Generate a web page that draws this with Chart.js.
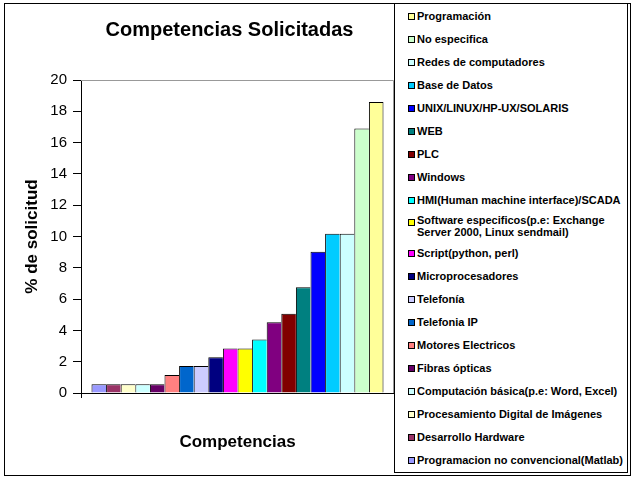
<!DOCTYPE html>
<html>
<head>
<meta charset="utf-8">
<script src="https://cdn.jsdelivr.net/npm/chart.js@4.4.1/dist/chart.umd.min.js"></script>
<style>
  html, body { margin: 0; padding: 0; background: #fff; }
  #wrap { position: relative; width: 633px; height: 478px; overflow: hidden; }
  #chart { position: absolute; left: 0; top: 0; }
  #frame {
    position: absolute; left: 4px; top: 3px; width: 627px; height: 473px;
    border: 1px solid #000; box-sizing: border-box; pointer-events: none;
  }
  #legend {
    position: absolute; left: 394px; top: 3px; width: 234px; height: 470px;
    border: 1px solid #000; box-sizing: border-box; background: #fff;
    padding-top: 1px;
    font-family: "Liberation Sans", Arial, sans-serif; font-size: 11px; font-weight: bold; color: #000;
  }
  .item { display: flex; align-items: center; height: 23px; padding-left: 13px; }
  .item.multi { height: 30px; align-items: flex-start; }
  .item.multi .mark { margin-top: 7px; }
  .item.multi .txt { margin-top: 3px; }
  .mark { width: 7px; height: 7px; border: 1px solid #000; box-sizing: border-box; margin-right: 2px; flex: none; }
  .txt { white-space: pre-line; line-height: 11.5px; }
</style>
</head>
<body>
<div id="wrap">
  <canvas id="chart" width="633" height="478"></canvas>
  <div id="frame"></div>
  <div id="legend"></div>
</div>
<script>
// Competencias solicitadas: one series per skill, sorted from smallest to largest
const skills = [
  'Programacion no convencional(Matlab)',
  'Desarrollo Hardware',
  'Procesamiento Digital de Imágenes',
  'Computación básica(p.e: Word, Excel)',
  'Fibras ópticas',
  'Motores Electricos',
  'Telefonia IP',
  'Telefonía',
  'Microprocesadores',
  'Script(python, perl)',
  'Software especificos(p.e: Exchange\nServer 2000, Linux sendmail)',
  'HMI(Human machine interface)/SCADA',
  'Windows',
  'PLC',
  'WEB',
  'UNIX/LINUX/HP-UX/SOLARIS',
  'Base de Datos',
  'Redes de computadores',
  'No especifica',
  'Programación'
];
const shares = [
  0.56, 0.56, 0.56, 0.56, 0.56, 1.15, 1.72, 1.72, 2.28, 2.85,
  2.85, 3.42, 4.52, 5.06, 6.75, 9.03, 10.17, 10.17, 16.9, 18.6
];
const barColors = [
  '#9999FF', '#993366', '#FFFFCC', '#CCFFFF', '#660066', '#FF8080', '#0066CC', '#CCCCFF', '#000080', '#FF00FF',
  '#FFFF00', '#00FFFF', '#800080', '#800000', '#008080', '#0000FF', '#00CCFF', '#CCFFFF', '#CCFFCC', '#FFFF99'
];
const categories = [''];
const yTickValues = [0, 2, 4, 6, 8, 10, 12, 14, 16, 18, 20];

Chart.defaults.font.family = '"Liberation Sans", Arial, sans-serif';
Chart.defaults.color = '#000';

// gray frame on top and right of the plot area (Excel style)
const plotFrame = {
  id: 'plotFrame',
  afterLayout(chart) {
    // the original title sits a little left of the plot centre
    if (chart.titleBlock) chart.titleBlock.left -= 16;
  },
  beforeDatasetsDraw(chart) {
    const { ctx, chartArea: a } = chart;
    ctx.save();
    ctx.strokeStyle = '#999';
    ctx.lineWidth = 1;
    ctx.beginPath();
    ctx.moveTo(a.left, a.top + 0.5);
    ctx.lineTo(a.right - 0.5, a.top + 0.5);
    ctx.lineTo(a.right - 0.5, a.bottom);
    ctx.stroke();
    ctx.restore();
  }
};

const last = skills.length - 1;
const datasets = skills.map((label, i) => ({
  label,
  data: [shares[i]],
  backgroundColor: barColors[i],
  borderColor: '#000',
  borderWidth: { top: 1, left: 1, right: i === last ? 1 : 0, bottom: 0 },
  borderSkipped: 'bottom',
  categoryPercentage: 0.933,
  barPercentage: 1
}));

new Chart(document.getElementById('chart').getContext('2d'), {
  type: 'bar',
  data: { labels: categories, datasets },
  options: {
    responsive: false,
    animation: false,
    layout: { padding: { left: 0, top: 0, right: 239, bottom: 0 } },
    scales: {
      x: {
        afterFit: s => { s.height = 85; },
        grid: { drawOnChartArea: false, tickLength: 5, color: '#000', offset: true },
        border: { color: '#000', width: 1 },
        ticks: { display: false },
        title: {
          display: true,
          text: 'Competencias',
          font: { size: 17, weight: 'bold' },
          padding: { top: 0, bottom: 25 }
        }
      },
      y: {
        min: 0,
        max: 20,
        afterBuildTicks: s => { s.ticks = yTickValues.map(v => ({ value: v })); },
        afterFit: s => { s.width = 81; },
        grid: { drawOnChartArea: false, tickLength: 8, color: '#000' },
        border: { color: '#000', width: 1 },
        ticks: { font: { size: 15 }, padding: 6 },
        title: {
          display: true,
          text: '% de solicitud',
          font: { size: 17, weight: 'bold' },
          padding: { top: 22, bottom: 0 }
        }
      }
    },
    plugins: {
      legend: { display: false },
      tooltip: { enabled: false },
      title: {
        display: true,
        text: 'Competencias Solicitadas',
        fullSize: false,
        font: { size: 20, weight: 'bold' },
        padding: { top: 18, bottom: 38 }
      }
    }
  },
  plugins: [plotFrame]
});

// legend box lists the series in reverse order, like the original
const legendEl = document.getElementById('legend');
skills.map((label, i) => ({ label, color: barColors[i] })).reverse().forEach(entry => {
  const item = document.createElement('div');
  item.className = entry.label.includes('\n') ? 'item multi' : 'item';
  const mark = document.createElement('span');
  mark.className = 'mark';
  mark.style.background = entry.color;
  const txt = document.createElement('span');
  txt.className = 'txt';
  txt.textContent = entry.label;
  item.appendChild(mark);
  item.appendChild(txt);
  legendEl.appendChild(item);
});
</script>
</body>
</html>
